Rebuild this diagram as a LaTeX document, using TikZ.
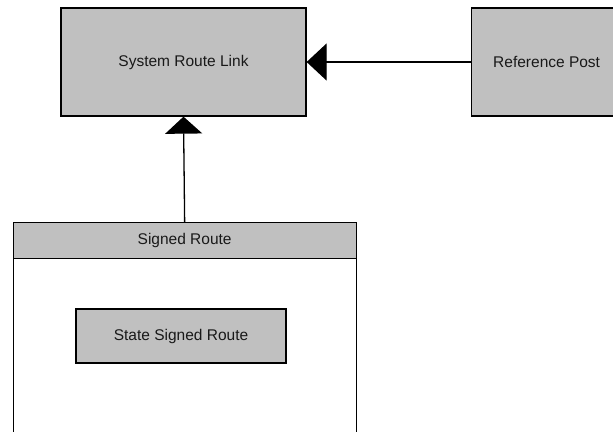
\documentclass[tikz,border=0pt]{standalone}
\usepackage{fontspec}
\setmainfont{Liberation Sans}
\usetikzlibrary{arrows.meta}
\definecolor{boxgray}{HTML}{C0C0C0}
\tikzset{
  box/.style={draw=black, line width=1.3pt, fill=boxgray, inner sep=0pt,
    font=\fontsize{15.5}{18}\selectfont, text=black!90},
  conn/.style={line width=1.3pt, draw=black},
  bighead/.style={-{Triangle[length=#1, width=37pt]}},
}
\begin{document}
\begin{tikzpicture}[x=1pt,y=-1pt]
\useasboundingbox (0,0) rectangle (613,431);
% System Route Link
\node[box, minimum width=245pt, minimum height=108pt] (srl) at (183.5,62) {System Route Link};
% Reference Post
\node[box, minimum width=150pt, minimum height=108pt, anchor=west] (rp) at (471,62) {Reference Post};
% Signed Route container
\node[draw=black, line width=1.3pt, fill=white, minimum width=343pt, minimum height=240pt, anchor=north west, inner sep=0pt] (srbody) at (12.5,222) {};
\node[box, minimum width=343pt, minimum height=36pt, anchor=north west] (sr) at (12.5,222) {Signed Route};
% State Signed Route
\node[box, minimum width=210pt, minimum height=54pt] (ssr) at (181,336) {State Signed Route};
% Connectors
\draw[conn, bighead=20pt] (rp.west) -- (srl.east);
\draw[conn, bighead=17pt] (sr.north) -- (srl.south);
\end{tikzpicture}
\end{document}
